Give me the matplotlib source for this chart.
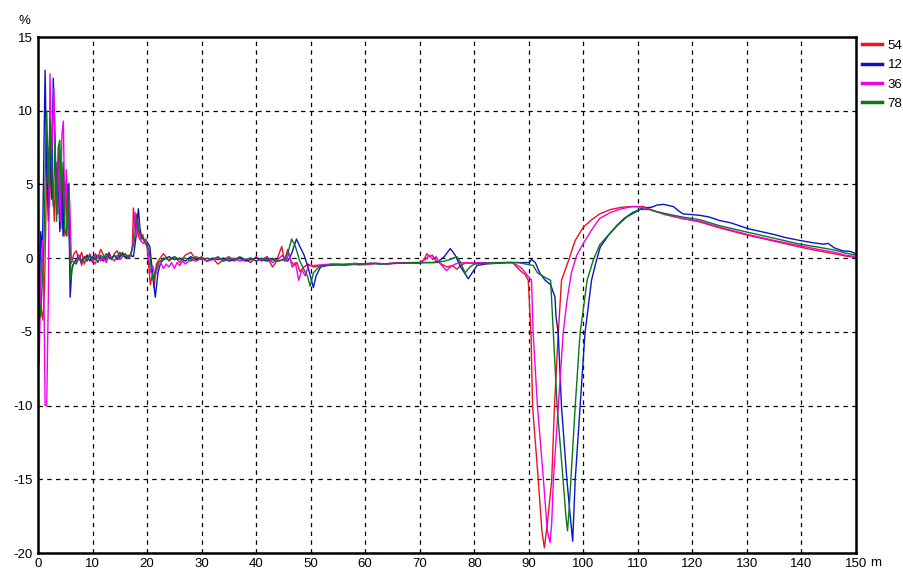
import matplotlib
matplotlib.use("Agg")
import matplotlib.pyplot as plt

plt.rcParams['font.family'] = ['Liberation Sans', 'DejaVu Sans']

# ---------------- data (distance in m, deviation in %) ----------------
labels = ["54", "12", "36", "78"]
colors = ["#e8141e", "#0a14c8", "#f000f0", "#087818"]

x_54 = [0, 0.3, 0.6, 0.9, 1.2, 1.5, 1.8, 2.1, 2.4, 2.7, 3.0, 3.3, 3.6, 3.9, 4.2, 4.5, 4.8, 5.1, 5.4, 5.7, 5.9, 6.2, 6.6,
        7.0, 7.5, 8.0, 8.5, 9.0, 9.5, 10.0, 10.5, 11.0, 11.5, 12.0, 12.5, 13.0, 13.5, 14.0, 14.5, 15.0, 15.5, 16.0, 16.5,
        17.0, 17.3, 17.5, 17.8, 18.1, 18.4, 18.8, 19.2, 19.6, 20.0, 20.3, 20.6, 21.0, 21.3, 21.7, 22.2, 23, 24, 25, 26,
        27, 28, 29, 30, 31, 32, 33, 34, 35, 36, 37, 38, 39, 40, 41, 42, 43, 43.6, 44.2, 44.7, 45.2, 45.8, 46.4, 47, 47.5,
        48, 48.8, 49.5, 50.5, 52, 54, 56, 58, 60, 62, 64, 66, 68, 70, 70.8, 71.3, 71.8, 72.3, 73, 74, 75, 76, 76.8, 77.5,
        78.5, 80, 82, 84, 86, 87, 87.8, 88.6, 89.3, 89.9, 90.4, 90.7, 91.75, 92.4, 92.85, 93.4, 94.2, 94.7, 95.4, 96.0,
        97.3, 98.5, 100, 101.5, 103, 105, 107, 109, 111, 113, 115, 118, 121.4, 125, 130.2, 135, 139.7, 143, 146, 148, 150]
y_54 = [1.5, -1.0, -3.5, -4.2, -2.0, 4.0, 7.5, 3.5, 7.0, 5.0, 2.5, 6.5, 3.0, 7.5, 2.0, 5.5, 1.5, 5.0, 2.0, 5.1, -0.5, -0.2, 0.3,
        0.5, -0.1, 0.4, -0.4, 0.2, 0.1, -0.3, 0.3, 0.0, 0.6, 0.2, -0.2, 0.4, -0.1, 0.3, 0.5, 0.1, 0.4, 0.0, 0.2,
        0.1, 0.8, 3.4, 2.0, 3.0, 1.5, 1.2, 1.6, 1.0, 0.8, -0.5, -1.8, -1.0, -2.0, -0.4, -0.1, 0.3, -0.2, 0.1, -0.3,
        0.2, 0.4, -0.1, 0.1, -0.2, 0.0, -0.4, -0.1, 0.1, -0.2, 0.0, -0.1, -0.3, 0.1, -0.2, 0.1, -0.6, -0.3, 0.3, 0.8, -0.2, 0.6, -0.2, -0.5, -0.3,
        -0.9, -0.6, -0.4, -0.6, -0.5, -0.4, -0.5, -0.4, -0.45, -0.35, -0.4, -0.35, -0.3, -0.3, -0.1, 0.3, 0.1, 0.2, -0.2, -0.4, -0.6, -0.5, -0.75, -0.5,
        -0.3, -0.35, -0.3, -0.35, -0.3, -0.3, -0.6, -0.9, -1.1, -1.5, -5.1, -10.1, -15.1, -18.5, -19.65, -18.0, -15.1, -10.1, -5.1, -1.5,
        -0.15, 1.2, 2.1, 2.6, 3.0, 3.3, 3.45, 3.5, 3.5, 3.2, 2.95, 2.7, 2.45, 2.05, 1.55, 1.15, 0.75, 0.5, 0.3, 0.15, 0.03]

x_12 = [0, 0.2, 0.5, 0.8, 1.0, 1.3, 1.6, 1.9, 2.2, 2.5, 2.8, 3.1, 3.4, 3.7, 4.0, 4.3, 4.6, 4.9, 5.2, 5.5, 5.75, 5.9, 6.2, 6.6,
        7, 7.5, 8, 8.5, 9, 9.5, 10, 10.5, 11, 11.5, 12, 12.5, 13, 13.5, 14, 14.5, 15, 15.5, 16, 16.5, 17, 17.5, 18.0, 18.4,
        18.7, 19.0, 19.5, 20, 20.5, 21.0, 21.5, 22, 22.5, 23, 24, 25, 26, 27, 28, 29, 30, 31, 32, 33, 34, 35, 36, 37, 38,
        39, 40, 41, 42, 43, 44, 45, 45.8, 46.5, 47.4, 48, 48.8, 49.5, 50.5, 51, 51.8, 53, 55, 57, 59, 61, 63, 65, 67, 69,
        71, 72.5, 73.5, 74.5, 75.6, 76.5, 77.5, 78.9, 79.8, 80.5, 82, 84, 86, 88, 90, 90.5, 91.2, 92, 93, 94, 94.8, 95.0,
        95.4, 96.0, 97.0, 97.6, 98.05, 98.3, 98.5, 99.4, 100.3, 101.5, 102.3, 103.1, 104.5, 106.1, 107.5, 109.1, 110.9,
        112.5, 113.5, 114.7, 116.5, 117.5, 118.3, 120, 121.4, 123, 125, 127, 130.2, 132, 135, 137, 139.7, 142, 144, 144.9,
        146, 147.5, 149, 150]
y_12 = [-4.5, -4.0, 1.8, 0.5, 5.0, 12.75, 6.0, 2.5, 8.0, 4.0, 12.2, 8.5, 3.5, 5.5, 1.8, 5.2, 1.5, 5.0, 4.5, 5.0, 1.0, -2.65, -0.8, -0.3,
        -0.1, 0.2, -0.2, 0.0, 0.2, -0.2, 0.1, -0.1, 0.2, 0.0, -0.2, 0.1, 0.3, 0.0, 0.2, -0.1, 0.1, 0.3, 0.1, 0.0, 0.2, 0.1, 1.5, 3.35,
        2.0, 1.4, 1.2, 1.1, 0.8, -1.0, -2.65, -1.0, -0.3, -0.1, 0.1, -0.1, 0.0, -0.2, 0.1, -0.1, 0.0, -0.2, 0.0, -0.1, 0.0, -0.2, -0.1, 0.0, -0.2,
        -0.1, 0.0, -0.1, -0.2, -0.1, -0.2, -0.1, -0.2, 0.3, 1.3, 0.8, 0.2, -0.6, -2.0, -1.2, -0.6, -0.5, -0.45, -0.4, -0.45, -0.35, -0.4, -0.35, -0.3, -0.35,
        -0.3, -0.3, -0.2, 0.1, 0.65, 0.2, -0.6, -1.4, -0.9, -0.5, -0.4, -0.35, -0.3, -0.3, -0.3, -0.1, -0.3, -1.0, -1.5, -1.8, -2.65, -4.0,
        -5.1, -10.1, -15.1, -17.5, -19.2, -17.0, -15.1, -10.1, -5.1, -1.5, -0.3, 0.75, 1.5, 2.2, 2.7, 3.1, 3.4,
        3.45, 3.6, 3.65, 3.5, 3.2, 3.0, 2.95, 2.9, 2.8, 2.55, 2.4, 2.0, 1.85, 1.6, 1.4, 1.2, 1.05, 0.95, 1.0,
        0.7, 0.5, 0.45, 0.3]

x_36 = [0, 0.2, 0.5, 0.8, 1.1, 1.3, 1.6, 1.9, 2.2, 2.5, 2.9, 3.2, 3.5, 3.8, 4.1, 4.4, 4.65, 4.9, 5.2, 5.5, 5.8, 6.1, 6.5,
        7, 7.5, 8, 8.5, 9, 9.5, 10, 10.5, 11, 11.5, 12, 12.5, 13, 13.5, 14, 14.5, 15, 15.5, 16, 16.5, 17, 17.4, 17.8, 18.1,
        18.4, 18.8, 19.3, 19.8, 20.2, 20.6, 21, 21.5, 22, 22.5, 23, 23.5, 24, 24.5, 25, 25.5, 26, 26.5, 27, 28, 29, 30, 31,
        32, 33, 34, 35, 36, 37, 38, 39, 40, 41, 42, 43, 44, 44.8, 45.4, 46, 46.6, 47.2, 47.8, 48.4, 49, 49.6, 50.5, 52, 54,
        56, 58, 60, 62, 64, 66, 68, 70, 71, 71.8, 72.4, 73, 73.6, 74.3, 74.9, 75.6, 76.5, 77.5, 79, 81, 83, 85, 87, 88.4,
        89.2, 89.8, 90.5, 90.8, 91.6, 92.7, 93.4, 93.9, 94.2, 94.5, 95.4, 96.3, 97.0, 97.8, 98.8, 100, 101.5, 103, 105, 107,
        109, 111, 113, 115, 118, 121.4, 125, 130.2, 135, 139.7, 143, 146, 148, 150]
y_36 = [-5.5, -7.2, -2.0, 1.2, -3.0, -10.0, -10.0, -2.5, 12.5, 7.0, 11.5, 6.0, 3.0, 7.0, 2.5, 8.5, 9.3, 3.0, 6.0, 1.5, 4.0, 0.0, -0.3,
        -0.3, 0.2, -0.5, 0.1, -0.2, 0.3, -0.1, -0.4, 0.2, -0.2, 0.1, -0.3, 0.2, 0.0, -0.2, 0.2, -0.1, 0.1, 0.3, 0.0, 0.2, 1.0, 3.1, 1.5,
        2.6, 1.2, 1.0, 1.3, 0.4, -1.0, -0.5, -1.2, -0.6, -0.3, -0.7, -0.4, -0.6, -0.3, -0.7, -0.3, -0.5, -0.2, -0.4, -0.1, -0.2, 0.0, -0.2,
        -0.1, 0.0, -0.2, -0.1, 0.0, -0.2, -0.1, 0.0, -0.2, -0.1, 0.1, -0.3, -0.1, 0.2, -0.2, 0.3, -0.6, -0.3, -1.5, -0.8, -1.2, -0.5, -0.5, -0.45, -0.4,
        -0.45, -0.35, -0.4, -0.35, -0.4, -0.3, -0.35, -0.3, -0.1, 0.2, -0.1, 0.1, -0.3, -0.6, -0.85, -0.6, -0.4, -0.3, -0.35, -0.3, -0.35, -0.3, -0.3, -0.6,
        -0.9, -1.2, -1.5, -5.1, -10.1, -15.1, -18.5, -19.3, -18.0, -15.1, -10.1, -5.1, -2.9, -1.0, 0.2, 1.0, 1.9, 2.7, 3.1, 3.35,
        3.5, 3.45, 3.2, 3.0, 2.7, 2.5, 2.1, 1.6, 1.2, 0.85, 0.6, 0.4, 0.2, 0.1]

x_78 = [0, 0.2, 0.5, 0.8, 1.1, 1.4, 1.6, 1.9, 2.2, 2.5, 2.8, 3.1, 3.4, 3.7, 4.0, 4.3, 4.6, 4.9, 5.2, 5.5, 5.75, 6.0, 6.3, 6.7,
        7, 7.5, 8, 8.5, 9, 9.5, 10, 10.5, 11, 11.5, 12, 12.5, 13, 13.5, 14, 14.5, 15, 15.5, 16, 16.5, 17, 17.6, 18.1, 18.5,
        18.9, 19.4, 19.9, 20.4, 20.8, 21.2, 21.6, 22.1, 23, 24, 25, 26, 27, 28, 29, 30, 31, 32, 33, 34, 35, 36, 37, 38, 39,
        40, 41, 42, 43, 44, 45, 45.8, 46.5, 47.2, 48, 48.8, 49.4, 49.9, 50.5, 51.5, 53, 55, 57, 59, 61, 63, 65, 67, 69, 71,
        73, 74.5, 75.5, 76.8, 77.5, 78.3, 79.2, 80, 82, 84, 86, 88, 90.8, 91.6, 92.5, 93.4, 94.0, 94.5, 95.2, 96.3, 96.8,
        97.1, 97.4, 97.7, 98.5, 99.4, 100.7, 101.8, 103, 104.9, 106.5, 108, 109.5, 110.4, 112, 114, 116, 118, 121.4, 125,
        130.2, 135, 139.7, 143, 146, 148, 150]
y_78 = [0.5, -3.0, -4.0, -1.5, 1.0, 7.5, 10.0, 5.0, 9.5, 6.0, 3.5, 8.0, 2.5, 7.5, 8.0, 4.0, 6.5, 2.0, 1.5, 4.5, 1.6, -1.5, -0.5, -0.3,
        -0.4, 0.0, -0.3, 0.1, -0.2, 0.2, -0.1, 0.1, -0.3, 0.2, 0.0, 0.3, 0.1, -0.1, 0.2, 0.0, 0.4, 0.1, 0.3, 0.0, 0.3, 1.0, 2.8, 1.8,
        1.5, 1.3, 1.0, 0.5, -0.8, -1.5, -0.8, -0.3, 0.0, -0.1, 0.1, -0.1, 0.0, -0.2, 0.1, -0.1, 0.0, -0.1, 0.1, -0.2, 0.0, -0.1, 0.1, -0.1, 0.0,
        -0.2, 0.0, -0.1, 0.0, -0.2, -0.1, 0.3, 1.3, 0.8, -0.2, -0.8, -1.2, -1.9, -1.0, -0.6, -0.5, -0.4, -0.45, -0.4, -0.35, -0.4, -0.35, -0.35, -0.3, -0.3,
        -0.3, -0.2, -0.1, 0.1, -0.3, -1.0, -0.6, -0.4, -0.35, -0.3, -0.3, -0.3, -0.5, -1.0, -1.2, -1.4, -1.5, -5.1, -10.1, -15.1, -17.5,
        -18.5, -17.0, -15.1, -10.1, -5.1, -1.5, -0.15, 0.9, 1.7, 2.3, 2.8, 3.1, 3.3, 3.3, 3.1, 2.95, 2.8, 2.6, 2.2,
        1.75, 1.35, 0.95, 0.75, 0.55, 0.35, 0.2]

x_ticks = list(range(0, 151, 10))
y_ticks = list(range(-20, 16, 5))
x_tick_labels = [str(v) for v in x_ticks]
y_tick_labels = [str(v) for v in y_ticks]
y_unit = "%"
x_unit = "m"

# ---------------- figure ----------------
fig = plt.figure(figsize=(9.04, 5.69), dpi=100)
W, H = 904, 569
ax = fig.add_axes([38 / W, 1 - 553 / H, (856 - 38) / W, (553 - 37) / H])

series = [(x_54, y_54), (x_12, y_12), (x_36, y_36), (x_78, y_78)]
for (xs, ys), lab, col in zip(series, labels, colors):
    ax.plot(xs, ys, color=col, lw=1.0, label=lab)

ax.set_xlim(0, 150)
ax.set_ylim(-20, 15)
ax.set_xticks(x_ticks)
ax.set_xticklabels(x_tick_labels)
ax.set_yticks(y_ticks)
ax.set_yticklabels(y_tick_labels)
ax.tick_params(length=0, labelsize=9.5)
ax.tick_params(axis='x', pad=3.5)
ax.tick_params(axis='y', pad=4)
ax.grid(True, color='black', lw=0.9, linestyle=(0, (3.5, 3.5)))
for s in ax.spines.values():
    s.set_linewidth(1.8)
    s.set_color('black')
ax.set_axisbelow(True)

# unit labels
fig.text(24 / W, 1 - 21 / H, y_unit, fontsize=9.5, ha='center', va='center')
ax.annotate(x_unit, xy=(150, 0), xycoords=('data', 'axes fraction'),
            xytext=(10, -3.0), textcoords='offset points', ha='left', va='top', fontsize=9.5)

leg = ax.legend(loc='upper left', bbox_to_anchor=(1 + 6 / 818, 0.995), frameon=False,
                fontsize=9.5, handlelength=1.5, handletextpad=0.45, labelspacing=0.54,
                borderpad=0, borderaxespad=0)
for h in leg.legend_handles:
    h.set_linewidth(2.5)

fig.savefig("out.png", dpi=100, facecolor='white')
